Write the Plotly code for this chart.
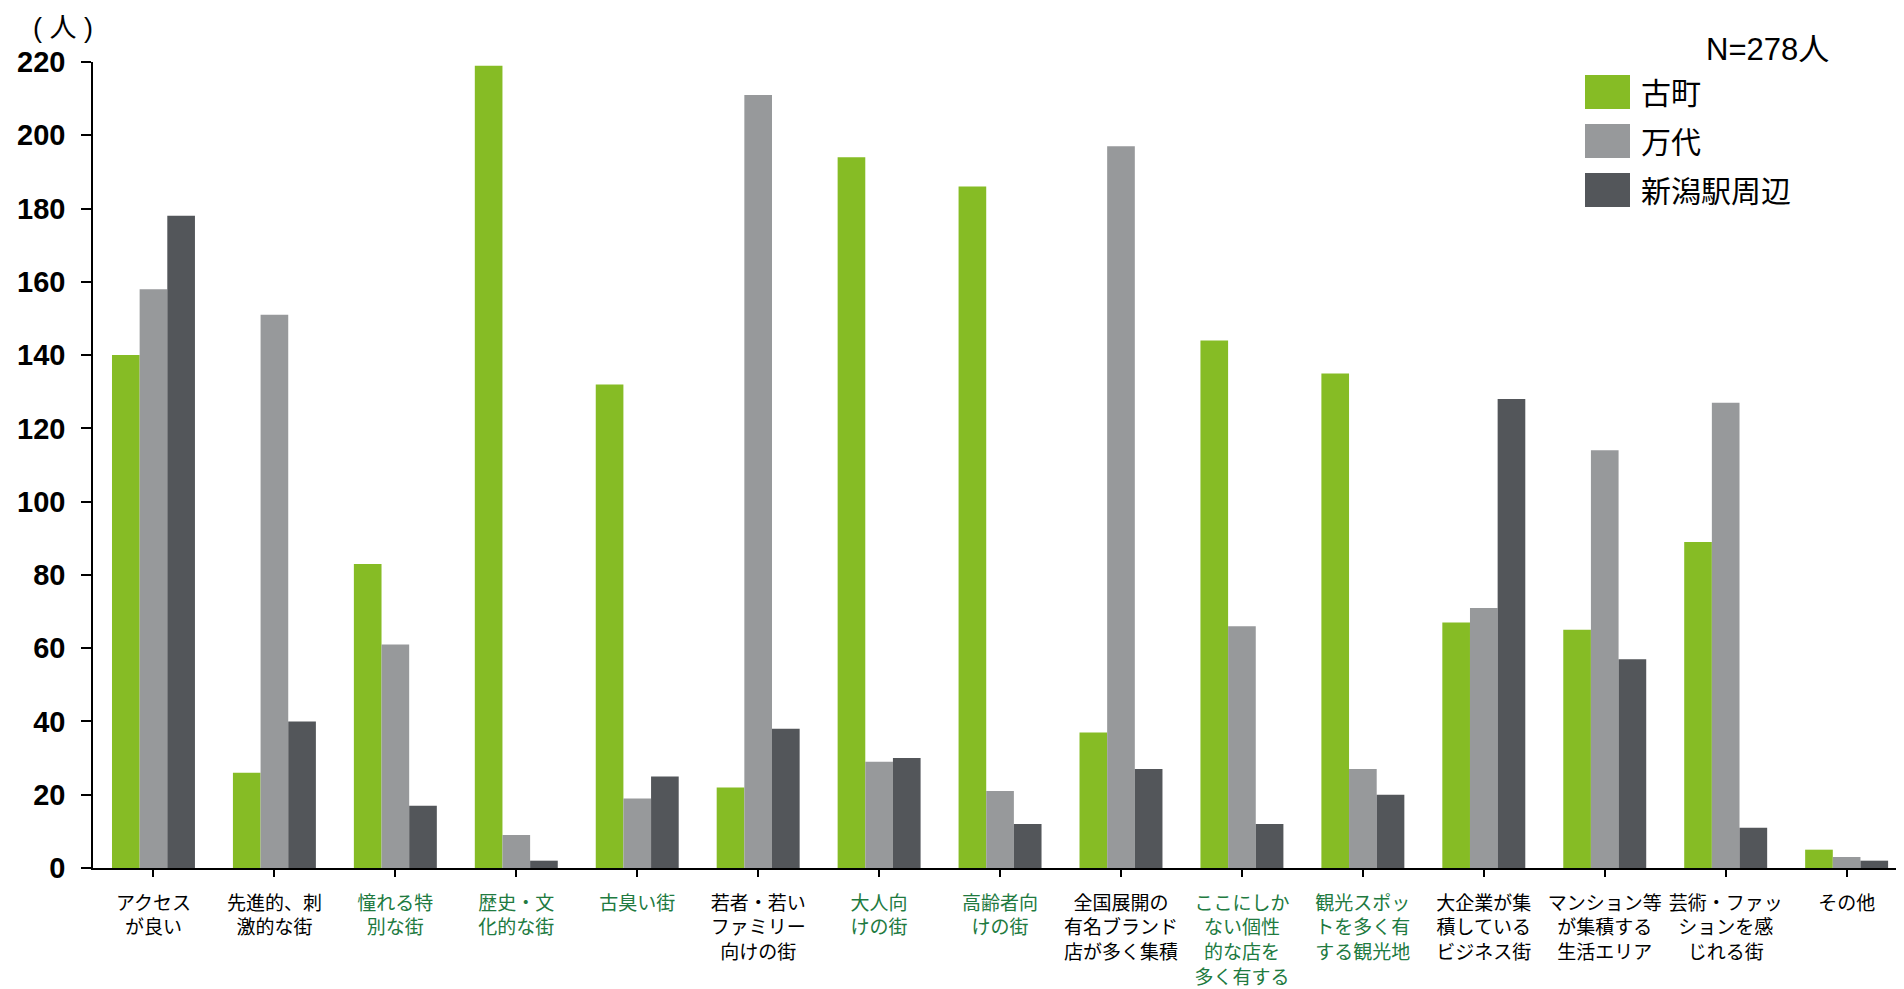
import plotly.graph_objects as go

categories = ["アクセス<br>が良い", "先進的、刺<br>激的な街", "憧れる特<br>別な街", "歴史・文<br>化的な街", "古臭い街",
              "若者・若い<br>ファミリー<br>向けの街", "大人向<br>けの街", "高齢者向<br>けの街", "全国展開の<br>有名ブランド<br>店が多く集積",
              "ここにしか<br>ない個性<br>的な店を<br>多く有する", "観光スポッ<br>トを多く有<br>する観光地", "大企業が集<br>積している<br>ビジネス街",
              "マンション等<br>が集積する<br>生活エリア", "芸術・ファッ<br>ションを感<br>じれる街", "その他"]
green_labels = [False, False, True, True, True, False, True, True, False, True, True, False, False, False, False]

furumachi = [140, 26, 83, 219, 132, 22, 194, 186, 37, 144, 135, 67, 65, 89, 5]
bandai = [158, 151, 61, 9, 19, 211, 29, 21, 197, 66, 27, 71, 114, 127, 3]
niigata_eki = [178, 40, 17, 2, 25, 38, 30, 12, 27, 12, 20, 128, 57, 11, 2]

series_names = ["古町", "万代", "新潟駅周辺"]
series_colors = ["#86BC25", "#97999B", "#53565A"]
series_values = [furumachi, bandai, niigata_eki]

y_ticks = [0, 20, 40, 60, 80, 100, 120, 140, 160, 180, 200, 220]

x_idx = list(range(len(categories)))

fig = go.Figure()
for name, color, vals in zip(series_names, series_colors, series_values):
    fig.add_trace(go.Bar(x=x_idx, y=vals, name=name, marker=dict(color=color, line=dict(width=0)),
                         showlegend=False))

ticktext = []
for lab, g in zip(categories, green_labels):
    if g:
        ticktext.append("<br>".join(f"<span style='color:#217A3F'>{p}</span>" for p in lab.split("<br>")))
    else:
        ticktext.append(lab)

# page has an 8px body margin; figure sized to fit the 1904x989 window
OFF = 8
W, H = 1904 - OFF, 989 - OFF
L, R, T = 93 - OFF, 0, 62 - OFF
B = H - (868.3 - OFF)
fig.update_layout(
    width=W, height=H,
    margin=dict(l=L, r=R, t=T, b=B, autoexpand=False),
    paper_bgcolor="white", plot_bgcolor="white",
    barmode="group", bargap=0.314, bargroupgap=0,
    font=dict(family="Noto Sans CJK JP", color="black"),
)
cat_w = 120.94
x_end = -0.5 + (W - L - R) / cat_w
fig.update_xaxes(
    range=[-0.5, x_end], tickmode="array", tickvals=x_idx, ticktext=ticktext,
    showline=True, linecolor="black", linewidth=1.5,
    ticks="outside", tickson="boundaries", ticklen=7, tickcolor="black", tickwidth=1.5,
    tickfont=dict(family="Noto Sans CJK JP", size=19, color="black"),
    ticklabelstandoff=10, showgrid=False, zeroline=False, tickangle=0, automargin=False,
)
fig.update_yaxes(
    range=[0, 220], tickmode="array", tickvals=y_ticks,
    showline=True, linecolor="black", linewidth=1.5,
    ticks="outside", ticklen=10, tickcolor="black", tickwidth=1.5,
    tickfont=dict(family="Liberation Sans", size=29, color="black", weight="bold"),
    ticklabelstandoff=10, showgrid=False, zeroline=False, automargin=False,
)

pw = W - L - R
ph = H - T - B
def px_x(x):  # page pixel -> paper fraction
    return (x - OFF - L) / pw
def px_y(y):
    return 1 - (y - OFF - T) / ph

# unit label
fig.add_annotation(text="( 人 )", xref="paper", yref="paper", x=px_x(31), y=px_y(28),
                   xanchor="left", yanchor="middle", showarrow=False,
                   font=dict(family="Liberation Sans, Noto Sans CJK JP", size=27, color="black"))

# legend (drawn manually for large swatches)
fig.add_annotation(text="N=278人", xref="paper", yref="paper", x=px_x(1704), y=px_y(49),
                   xanchor="left", yanchor="middle", showarrow=False,
                   font=dict(family="Liberation Sans, Noto Sans CJK JP", size=31, color="black"))
sw_tops = [75, 124, 173]
for name, color, top in zip(series_names, series_colors, sw_tops):
    fig.add_shape(type="rect", xref="paper", yref="paper", x0=px_x(1585), x1=px_x(1630),
                  y0=px_y(top + 34), y1=px_y(top), fillcolor=color, line=dict(width=0))
    fig.add_annotation(text=name, xref="paper", yref="paper", x=px_x(1639), y=px_y(top + 16),
                       xanchor="left", yanchor="middle", showarrow=False,
                       font=dict(family="Noto Sans CJK JP", size=30, color="black"))

fig.write_html("out.html")
